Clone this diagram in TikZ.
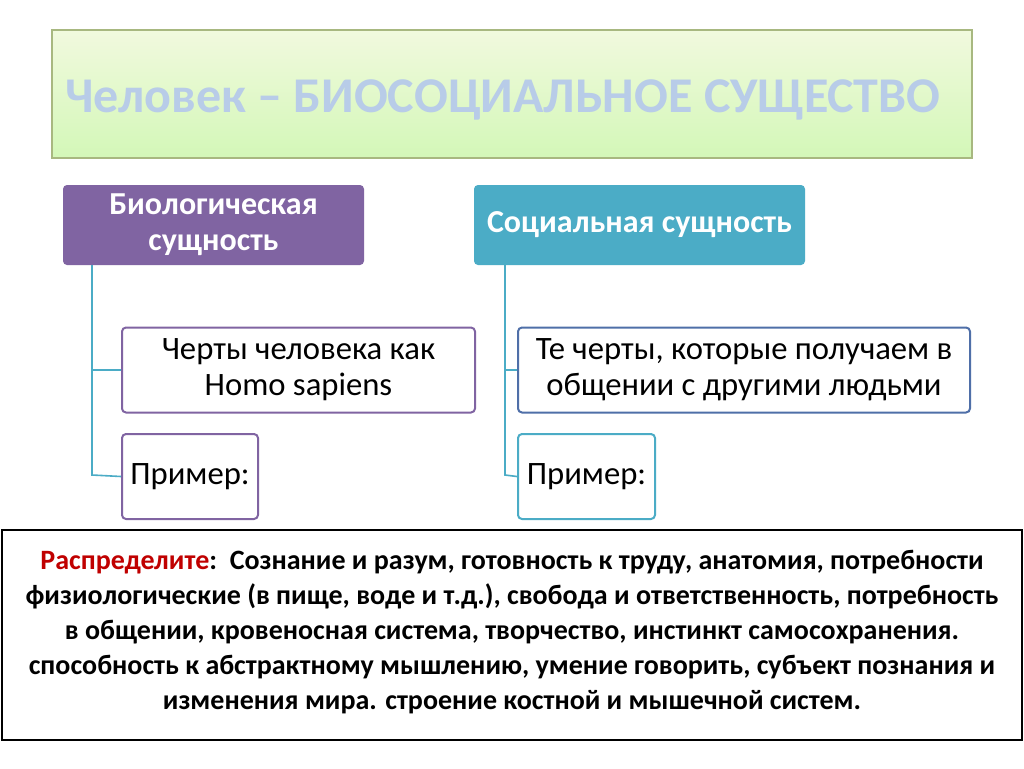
\documentclass[tikz,border=0pt]{standalone}
\usepackage{fontspec}
\setmainfont{Carlito}
\begin{document}
\begin{tikzpicture}[x=0.75pt,y=-0.75pt,
  head/.style={rounded corners=3pt,text=white,font=\bfseries\fontsize{24}{27}\selectfont,align=center,minimum height=60pt,inner sep=0pt},
  child/.style={draw,line width=1.5pt,rounded corners=3pt,fill=white,font=\fontsize{24.5}{27}\selectfont,align=center,inner sep=0pt,minimum height=63.75pt},
  conn/.style={draw=tealc,line width=1.2pt}]
\definecolor{purp}{HTML}{8064A2}
\definecolor{tealc}{HTML}{4BACC6}
\definecolor{blu}{HTML}{4F6FA8}
\definecolor{grn}{HTML}{E8F6C8}
\useasboundingbox (0,0) rectangle (1024,768);
\fill[white] (0,0) rectangle (1024,768);
\node[draw={rgb,255:red,168;green,184;blue,128},line width=1pt,top color=white!40!grn,bottom color=grn!90!green!95!white,minimum width=690pt,minimum height=96pt,inner sep=0pt] (title) at (512,94) {};
\node[text={rgb,255:red,184;green,204;blue,232},font=\bfseries\fontsize{37.5}{40}\selectfont] (tt) at (503,100) {Человек – БИОСОЦИАЛЬНОЕ СУЩЕСТВО};
\node[head,fill=purp,minimum width=225.75pt] (bio) at (213.5,225) {Биологическая\\сущность};
\node[head,fill=tealc,minimum width=248.25pt] (soc) at (639.5,225) {Социальная сущность};
\coordinate (b0) at (92,265); \coordinate (b1) at (92,370); \coordinate (b2) at (92,475);
\coordinate (s0) at (505,265); \coordinate (s1) at (505,370); \coordinate (s2) at (505,475);
\node[child,draw=purp,minimum width=264.75pt] (c1) at (298.5,370) {Черты человека как\\Homo sapiens};
\node[child,draw=purp,minimum width=102pt] (c2) at (190,476.5) {Пример:};
\node[child,draw=blu,minimum width=339pt] (c3) at (744,370) {Те черты, которые получаем в\\общении с другими людьми};
\node[child,draw=tealc,minimum width=102.75pt] (c4) at (586.5,476.5) {Пример:};
\draw[conn] (b0) -- (b2) -- (c2.west);
\draw[conn] (b1) -- (c1.west);
\draw[conn] (s0) -- (s2) -- (c4.west);
\draw[conn] (s1) -- (c3.west);
\node[draw=black,line width=1.5pt,minimum width=765pt,minimum height=157.5pt,inner sep=0pt] (box) at (512,635) {};
\node[align=center,font=\bfseries\fontsize{21}{26.3}\selectfont] (txt) at (512,632) {\textcolor[HTML]{C00000}{Распределите}:\ \ Сознание и разум, готовность к труду, анатомия, потребности\\
физиологические (в пище, воде и т.д.), свобода и ответственность, потребность\\
в общении, кровеносная система, творчество, инстинкт самосохранения.\\
способность к абстрактному мышлению, умение говорить, субъект познания и\\
изменения мира. строение костной и мышечной систем.};
\end{tikzpicture}
\end{document}
